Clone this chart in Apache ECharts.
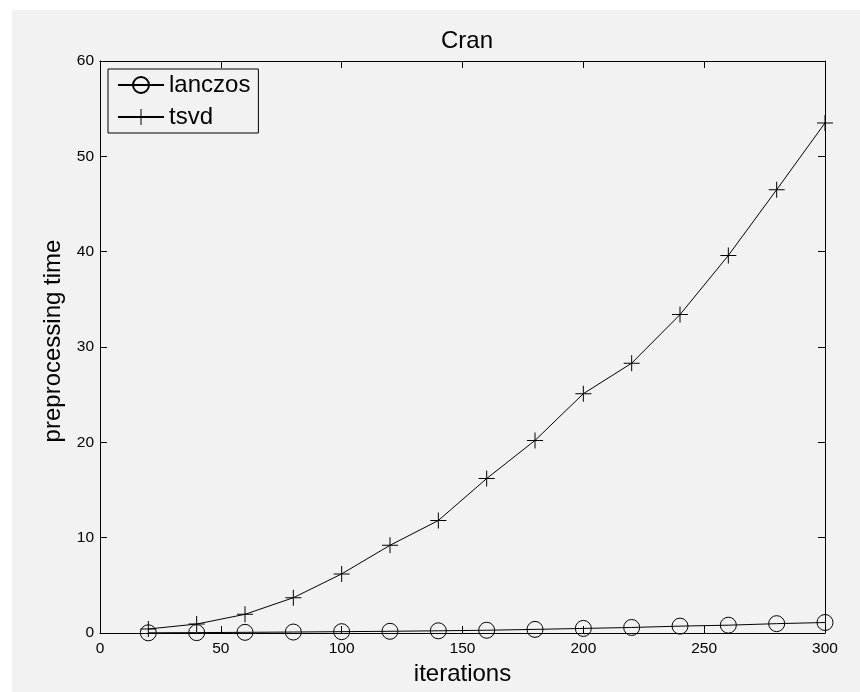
<!DOCTYPE html>
<html><head><meta charset="utf-8">
<script src="https://cdn.jsdelivr.net/npm/echarts@6/dist/echarts.min.js"></script>
<style>
html,body{margin:0;padding:0;background:#fff;width:860px;height:692px;overflow:hidden}
#c{position:absolute;left:12px;top:10px;width:848px;height:682px;background:#f2f2f2}
</style></head><body><div id="c"></div>
<script>
const iterations = [20, 40, 60, 80, 100, 120, 140, 160, 180, 200, 220, 240, 260, 280, 300];
const lanczos = [0.02, 0.04, 0.07, 0.1, 0.14, 0.18, 0.23, 0.29, 0.38, 0.48, 0.58, 0.72, 0.82, 0.98, 1.1];
const tsvd = [0.42, 0.94, 1.96, 3.7, 6.2, 9.2, 11.8, 16.2, 20.2, 25.1, 28.3, 33.4, 39.6, 46.5, 53.5];
const xTicks = [0, 50, 100, 150, 200, 250, 300];
const yTicks = [0, 10, 20, 30, 40, 50, 60];
const seriesNames = ['lanczos', 'tsvd'];

const FONT = 'Liberation Sans, Arial, Helvetica, sans-serif';
const chart = echarts.init(document.getElementById('c'), null, {renderer: 'canvas'});

function axisCommon(showLabel) {
  return {
    axisLine: {show: true, onZero: false, lineStyle: {color: '#000', width: 1}},
    axisTick: {show: true, inside: true, length: 7, lineStyle: {color: '#000', width: 1}},
    splitLine: {show: false},
    axisLabel: {show: showLabel, color: '#000', fontSize: 15.5, fontFamily: FONT}
  };
}
const xMin = xTicks[0], xMax = xTicks[xTicks.length - 1], xInt = xTicks[1] - xTicks[0];
const yMin = yTicks[0], yMax = yTicks[yTicks.length - 1], yInt = yTicks[1] - yTicks[0];

chart.setOption({
  animation: false,
  backgroundColor: 'transparent',
  title: {
    text: 'Cran', left: 450, top: 14, textAlign: 'center',
    textStyle: {fontSize: 24, fontWeight: 'normal', color: '#000', fontFamily: FONT}
  },
  grid: {left: 88, top: 51, right: 35, bottom: 59, containLabel: false},
  legend: {
    data: seriesNames, orient: 'vertical', left: 96, top: 59,
    itemWidth: 46, itemHeight: 20, itemGap: 8,
    padding: [4, 8, 4, 9],
    borderColor: '#000', borderWidth: 1, backgroundColor: '#f2f2f2',
    textStyle: {fontSize: 24, color: '#000', fontFamily: FONT},
    selectedMode: false
  },
  xAxis: [
    Object.assign({type: 'value', position: 'bottom', min: xMin, max: xMax, interval: xInt,
      name: 'iterations', nameLocation: 'middle', nameGap: 26,
      nameTextStyle: {fontSize: 24, color: '#000', fontFamily: FONT}}, axisCommon(true),
      {axisLabel: {show: true, color: '#000', fontSize: 15.5, fontFamily: FONT, margin: 8}}),
    Object.assign({type: 'value', position: 'top', min: xMin, max: xMax, interval: xInt}, axisCommon(false))
  ],
  yAxis: [
    Object.assign({type: 'value', position: 'left', min: yMin, max: yMax, interval: yInt,
      name: 'preprocessing time', nameLocation: 'middle', nameGap: 32,
      nameTextStyle: {fontSize: 24, color: '#000', fontFamily: FONT, padding: [0, 0, 0, 12]}}, axisCommon(true),
      {axisLabel: {show: true, color: '#000', fontSize: 15.5, fontFamily: FONT, margin: 6}}),
    Object.assign({type: 'value', position: 'right', min: yMin, max: yMax, interval: yInt}, axisCommon(false))
  ],
  series: [
    {
      name: seriesNames[0], type: 'line', xAxisIndex: 0, yAxisIndex: 0,
      data: iterations.map((x, i) => [x, lanczos[i]]),
      symbol: 'circle', symbolSize: 16, showAllSymbol: true,
      lineStyle: {color: '#000', width: 1},
      itemStyle: {color: 'rgba(0,0,0,0)', borderColor: '#000', borderWidth: 1},
      emphasis: {disabled: true}
    },
    {
      name: seriesNames[1], type: 'line', xAxisIndex: 0, yAxisIndex: 0,
      data: iterations.map((x, i) => [x, tsvd[i]]),
      symbol: 'path://M0,7.5H16V8.5H0Z M7.5,0H8.5V16H7.5Z', symbolSize: 16, showAllSymbol: true,
      lineStyle: {color: '#000', width: 1},
      itemStyle: {color: '#000', borderWidth: 0},
      emphasis: {disabled: true}
    }
  ]
});
</script></body></html>
